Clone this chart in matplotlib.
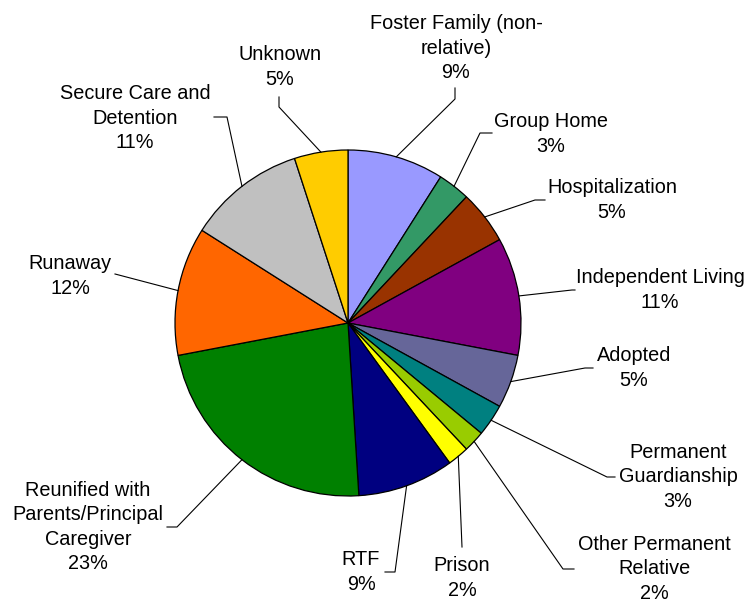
import matplotlib.pyplot as plt
import numpy as np

# 各安置去向所占比例（%）
labels = ["Foster Family (non-\nrelative)", "Group Home", "Hospitalization",
          "Independent Living", "Adopted", "Permanent\nGuardianship",
          "Other Permanent\nRelative", "Prison", "RTF",
          "Reunified with\nParents/Principal\nCaregiver", "Runaway",
          "Secure Care and\nDetention", "Unknown"]
shares = [9, 3, 5, 11, 5, 3, 2, 2, 9, 23, 12, 11, 5]
colors = ["#9999FF", "#339966", "#993300", "#800080", "#666699", "#008080",
          "#99CC00", "#FFFF00", "#000080", "#008000", "#FF6600", "#C0C0C0",
          "#FFCC00"]

# 标签位置：拐点、引线终点、文字中心（像素坐标，y 向下）
elbows = [(455, 99), (480, 133), (535, 200), (572, 290), (585, 368),
          (607, 477), (563, 569), (462, 547), (395, 572), (177, 527),
          (115, 274), (227, 117), (279, 107)]
ends = [(455, 88), (492, 133), (545, 200), (575, 290), (593, 368),
        (615, 477), (574, 569), (462, 547), (385, 572), (167, 527),
        (115, 274), (214, 117), (279, 97)]
text_pos = [(456, 48), (551, 134), (612, 200), (660, 290), (634, 368),
            (678, 477), (654, 569), (462, 578), (361, 572), (88, 527),
            (70, 276), (135, 118), (280, 67)]

cx, cy, r = 348, 323, 173

plt.rcParams['font.family'] = ['Liberation Sans', 'DejaVu Sans']
fig = plt.figure(figsize=(7.49, 6.02), dpi=100)
ax = fig.add_axes([0, 0, 1, 1])

ax.pie(shares, colors=colors, center=(cx, cy), radius=r, startangle=-90,
       counterclock=True,
       wedgeprops=dict(edgecolor="black", linewidth=0.9))
ax.set_xlim(0, 749)
ax.set_ylim(602, 0)
ax.set_aspect("equal")
ax.axis("off")

total = sum(shares)
cum = np.cumsum(shares) - np.array(shares) / 2
for i, lab in enumerate(labels):
    theta = np.deg2rad(-90 + 360 * cum[i] / total)
    px, py = cx + r * np.cos(theta), cy + r * np.sin(theta)
    ex, ey = elbows[i]
    tx, ty = ends[i]
    ax.plot([px, ex, tx], [py, ey, ty], color="black", lw=0.8)
    pct = round(100 * shares[i] / total)
    ax.text(text_pos[i][0], text_pos[i][1], f"{lab}\n{pct}%",
            ha="center", va="center", fontsize=14.3, linespacing=1.36,
            color="black")

plt.savefig("out.png", dpi=100)
